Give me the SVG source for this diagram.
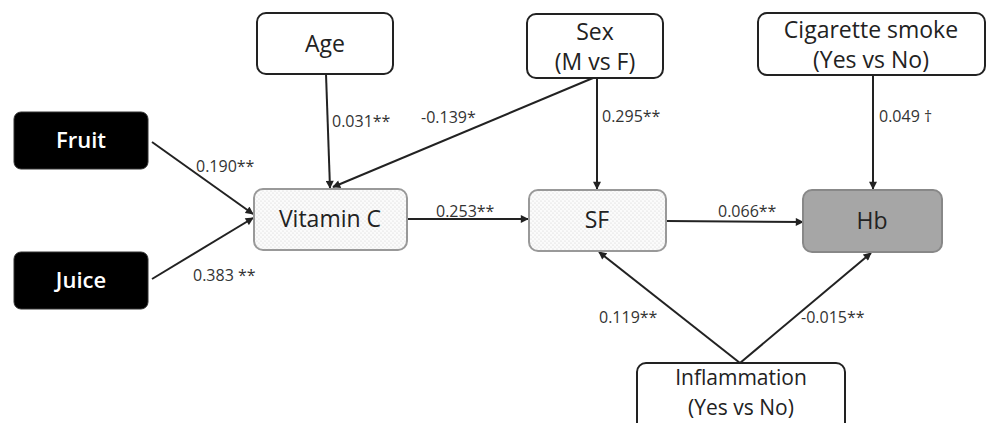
<svg xmlns="http://www.w3.org/2000/svg" width="987" height="423" viewBox="0 0 987 423">
<defs>
<pattern id="dots" width="4" height="4" patternUnits="userSpaceOnUse">
<rect width="4" height="4" fill="#fbfbfb"/>
<circle cx="1" cy="1" r="0.6" fill="#cfcfcf"/>
<circle cx="3" cy="3" r="0.6" fill="#cfcfcf"/>
</pattern>
<marker id="arr" viewBox="0 0 10 10" refX="9" refY="5" markerWidth="9" markerHeight="8" markerUnits="userSpaceOnUse" orient="auto">
<path d="M0,0 L10,5 L0,10 z" fill="#222"/>
</marker>
</defs>
<style>
.box{fill:#fff;stroke:#222;stroke-width:2}
.dot{fill:url(#dots);stroke:#999;stroke-width:2}
.blk{fill:#000;stroke:#333;stroke-width:1}
.hb{fill:#a6a6a6;stroke:#888;stroke-width:2}
.t{font-family:"Open Sans","DejaVu Sans",sans-serif;font-size:23px;fill:#222;text-anchor:middle}
.ts{font-size:21px}
.tw{font-family:"Open Sans","DejaVu Sans",sans-serif;font-size:22px;fill:#fff;text-anchor:middle;font-weight:600}
.e{font-family:"Open Sans","DejaVu Sans",sans-serif;font-size:16px;fill:#333}
.c{stroke:#222;stroke-width:2;fill:none;marker-end:url(#arr)}
</style>
<rect width="987" height="423" fill="#fff"/>
<g id="connectors">
<line class="c" x1="152" y1="142" x2="253" y2="214"/>
<line class="c" x1="152" y1="279" x2="253" y2="218"/>
<line class="c" x1="326" y1="74" x2="330" y2="188"/>
<line class="c" x1="593" y1="78" x2="333" y2="187"/>
<line class="c" x1="597" y1="78" x2="597" y2="189"/>
<line class="c" x1="407" y1="219" x2="528" y2="219"/>
<line class="c" x1="666" y1="221" x2="803" y2="222"/>
<line class="c" x1="873" y1="75" x2="873" y2="189"/>
<line class="c" x1="740" y1="363" x2="599" y2="252"/>
<line class="c" x1="740" y1="363" x2="871" y2="253"/>
<text class="e" x="196" y="172">0.190**</text>
<text class="e" x="332" y="127">0.031**</text>
<text class="e" x="421" y="123">-0.139*</text>
<text class="e" x="602" y="122">0.295**</text>
<text class="e" x="879" y="122">0.049 †</text>
<text class="e" x="436" y="217">0.253**</text>
<text class="e" x="718" y="217">0.066**</text>
<text class="e" x="193" y="281">0.383 **</text>
<text class="e" x="599" y="323">0.119**</text>
<text class="e" x="801" y="323">-0.015**</text>
</g>
<g id="fruit"><rect class="blk" x="14" y="112" width="134" height="57" rx="7"/><text class="tw" x="81" y="148">Fruit</text></g>
<g id="juice"><rect class="blk" x="14" y="252" width="134" height="57" rx="7"/><text class="tw" x="81" y="288">Juice</text></g>
<g id="age"><rect class="box" x="257" y="13" width="136" height="61" rx="9"/><text class="t" x="325" y="52">Age</text></g>
<g id="sex"><rect class="box" x="527" y="14" width="136" height="64" rx="9"/><text class="t" x="595" y="40">Sex</text><text class="t" x="595" y="70">(M vs F)</text></g>
<g id="cigarette"><rect class="box" x="758" y="13" width="227" height="62" rx="9"/><text class="t" x="871" y="38">Cigarette smoke</text><text class="t" x="871" y="68">(Yes vs No)</text></g>
<g id="vitaminc"><rect class="dot" x="254" y="189" width="153" height="61" rx="9"/><text class="t" x="330" y="227">Vitamin C</text></g>
<g id="sf"><rect class="dot" x="529" y="190" width="137" height="61" rx="9"/><text class="t" x="597" y="228">SF</text></g>
<g id="hb"><rect class="hb" x="803" y="190" width="139" height="62" rx="9"/><text class="t" x="872" y="229">Hb</text></g>
<g id="inflammation"><rect class="box" x="637" y="363" width="208" height="72" rx="9"/><text class="t ts" x="741" y="385">Inflammation</text><text class="t ts" x="741" y="415">(Yes vs No)</text></g>
</svg>
